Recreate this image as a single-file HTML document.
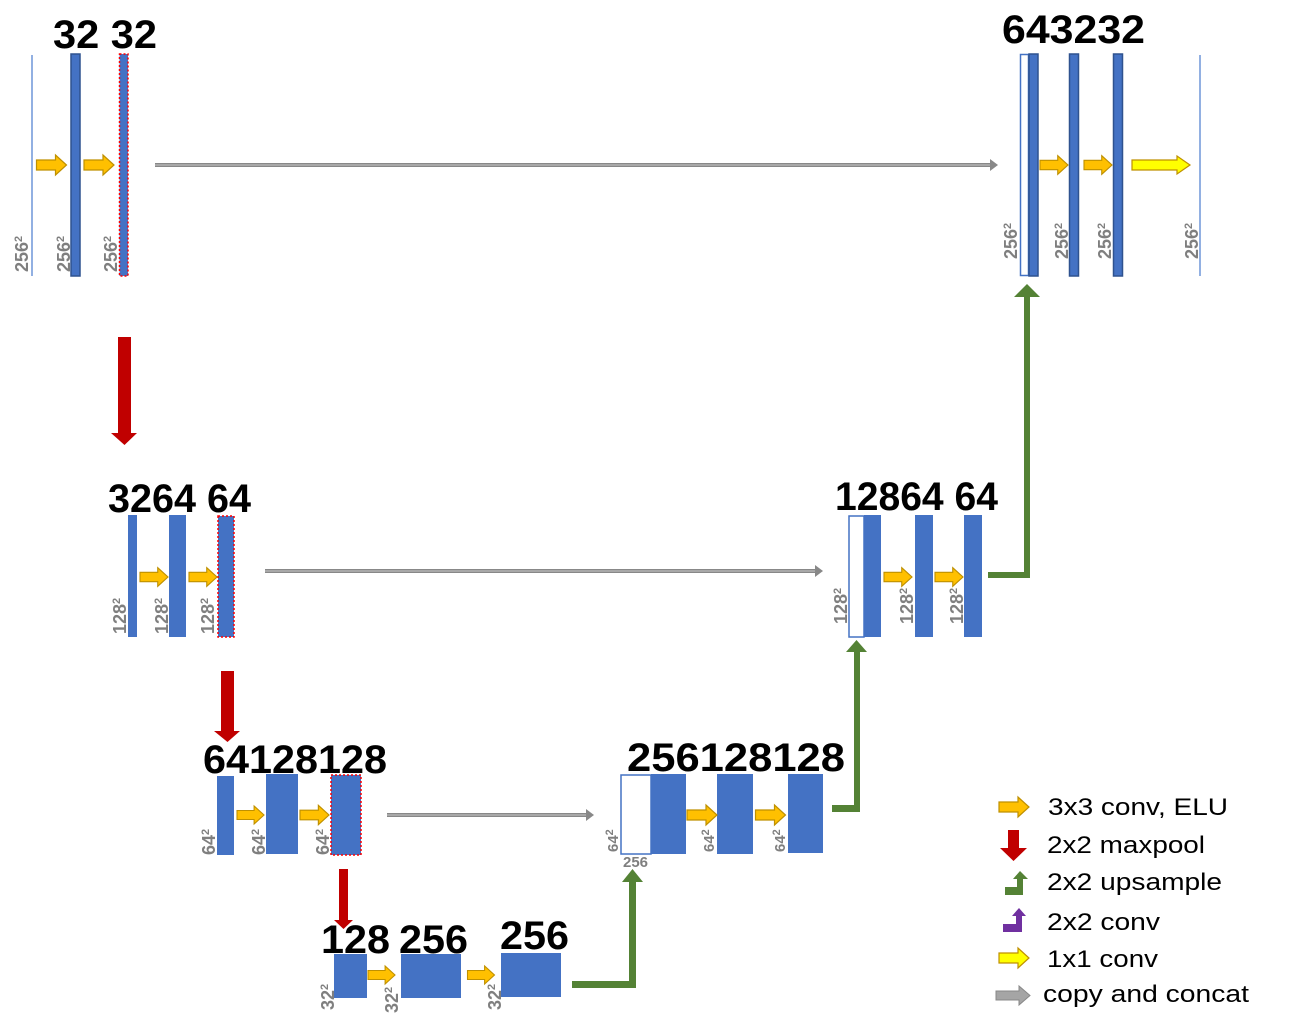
<!DOCTYPE html>
<html><head><meta charset="utf-8"><style>
html,body{margin:0;padding:0;background:#fff;}
svg{display:block;}
.big{font-family:"Liberation Sans",sans-serif;font-weight:bold;font-size:40px;fill:#000;}
.dim{font-family:"Liberation Sans",sans-serif;font-weight:bold;font-size:18px;fill:#7f7f7f;}
.sup{font-size:11px;}
.leg{font-family:"Liberation Sans",sans-serif;font-size:24px;fill:#000;}
.b{fill:#4472c4;}
.bd{fill:#4472c4;stroke:#2f528f;stroke-width:1.5;}
.rd{fill:#4472c4;stroke:#ff0000;stroke-width:1.5;stroke-dasharray:2 2;}
.wh{fill:#fff;stroke:#4472c4;stroke-width:1.5;}
</style></head><body>
<svg width="1294" height="1028" viewBox="0 0 1294 1028" xmlns="http://www.w3.org/2000/svg">
<defs>
<symbol id="oa" viewBox="0 0 30 20" overflow="visible"><polygon points="0,5 19,5 19,0 30,10 19,20 19,15 0,15" fill="#ffc000" stroke="#bf9000" stroke-width="1.2"/></symbol>
<symbol id="ya" viewBox="0 0 30 20" overflow="visible"><polygon points="0,5 19,5 19,0 30,10 19,20 19,15 0,15" fill="#ffff00" stroke="#bf9000" stroke-width="1.2"/></symbol>
</defs>

<g stroke-linecap="butt">
<line x1="155" y1="165" x2="992" y2="165" stroke="#888" stroke-width="4"/>
<line x1="155" y1="165" x2="992" y2="165" stroke="#c8c8c8" stroke-width="1"/>
<polygon points="990,159 998,165 990,171" fill="#888"/>
<line x1="265" y1="571" x2="817" y2="571" stroke="#888" stroke-width="4"/>
<line x1="265" y1="571" x2="817" y2="571" stroke="#c8c8c8" stroke-width="1"/>
<polygon points="815,565 823,571 815,577" fill="#888"/>
<line x1="387" y1="815" x2="588" y2="815" stroke="#888" stroke-width="4"/>
<line x1="387" y1="815" x2="588" y2="815" stroke="#c8c8c8" stroke-width="1"/>
<polygon points="586,809 594,815 586,821" fill="#888"/>
</g>

<text class="big" x="53" y="48" textLength="104" lengthAdjust="spacingAndGlyphs">32 32</text>
<line x1="32" y1="55" x2="32" y2="276" stroke="#6f96d8" stroke-width="1.5"/>
<rect class="bd" x="71" y="54" width="9" height="222"/>
<rect class="rd" x="119.5" y="54" width="8.5" height="222"/>
<use href="#oa" x="36" y="155" width="31" height="20"/>
<use href="#oa" x="83" y="155" width="32" height="20"/>
<text class="dim" transform="translate(28,272) rotate(-90)">256<tspan class="sup" dy="-6">2</tspan></text>
<text class="dim" transform="translate(70,272) rotate(-90)">256<tspan class="sup" dy="-6">2</tspan></text>
<text class="dim" transform="translate(117,272) rotate(-90)">256<tspan class="sup" dy="-6">2</tspan></text>

<text class="big" x="1002" y="43" textLength="143" lengthAdjust="spacingAndGlyphs">643232</text>
<rect class="wh" x="1020.5" y="54.5" width="8" height="221"/>
<rect class="bd" x="1029" y="54" width="9" height="222"/>
<rect class="bd" x="1069.5" y="54" width="9" height="222"/>
<rect class="bd" x="1113.5" y="54" width="9" height="222"/>
<line x1="1200" y1="55" x2="1200" y2="276" stroke="#6f96d8" stroke-width="1.5"/>
<use href="#oa" x="1040" y="155" width="28" height="20"/>
<use href="#oa" x="1084" y="155" width="28" height="20"/>
<svg x="1131" y="155" width="60" height="20" viewBox="0 0 60 20" overflow="visible"><polygon points="1,5 46,5 46,1 59,10 46,19 46,15 1,15" fill="#ffff00" stroke="#bf9000" stroke-width="1.2"/></svg>
<text class="dim" transform="translate(1017,259) rotate(-90)">256<tspan class="sup" dy="-6">2</tspan></text>
<text class="dim" transform="translate(1068,259) rotate(-90)">256<tspan class="sup" dy="-6">2</tspan></text>
<text class="dim" transform="translate(1111,259) rotate(-90)">256<tspan class="sup" dy="-6">2</tspan></text>
<text class="dim" transform="translate(1198,259) rotate(-90)">256<tspan class="sup" dy="-6">2</tspan></text>

<polygon points="118,337 131,337 131,433 137,433 124.5,445 111,433 118,433" fill="#c00000"/>
<polygon points="221,671 234,671 234,731 240,731 227.5,742 214,731 221,731" fill="#c00000"/>
<polygon points="339,869 348,869 348,920 353,920 343.5,929 334,920 339,920" fill="#c00000"/>

<text class="big" x="108" y="512" textLength="143" lengthAdjust="spacingAndGlyphs">3264 64</text>
<rect class="b" x="128" y="515" width="9" height="122"/>
<rect class="b" x="169" y="515" width="17" height="122"/>
<rect class="rd" x="218" y="516" width="16" height="121"/>
<use href="#oa" x="140" y="567" width="28" height="20"/>
<use href="#oa" x="189" y="567" width="28" height="20"/>
<text class="dim" transform="translate(126,634) rotate(-90)">128<tspan class="sup" dy="-6">2</tspan></text>
<text class="dim" transform="translate(168,634) rotate(-90)">128<tspan class="sup" dy="-6">2</tspan></text>
<text class="dim" transform="translate(214,634) rotate(-90)">128<tspan class="sup" dy="-6">2</tspan></text>

<text class="big" x="835" y="510" textLength="163" lengthAdjust="spacingAndGlyphs">12864 64</text>
<rect class="wh" x="849" y="516" width="15" height="121"/>
<rect class="b" x="864" y="515" width="17" height="122"/>
<rect class="b" x="915" y="515" width="18" height="122"/>
<rect class="b" x="964" y="515" width="18" height="122"/>
<use href="#oa" x="884" y="567" width="28" height="20"/>
<use href="#oa" x="935" y="567" width="28" height="20"/>
<text class="dim" transform="translate(847,624) rotate(-90)">128<tspan class="sup" dy="-6">2</tspan></text>
<text class="dim" transform="translate(913,624) rotate(-90)">128<tspan class="sup" dy="-6">2</tspan></text>
<text class="dim" transform="translate(963,624) rotate(-90)">128<tspan class="sup" dy="-6">2</tspan></text>

<text class="big" x="203" y="773" textLength="184" lengthAdjust="spacingAndGlyphs">64128128</text>
<rect class="b" x="217" y="776" width="17" height="79"/>
<rect class="b" x="266" y="774" width="32" height="80"/>
<rect class="rd" x="331" y="775" width="30" height="80"/>
<use href="#oa" x="237" y="805" width="27" height="20"/>
<use href="#oa" x="300" y="805" width="29" height="20"/>
<text class="dim" transform="translate(215,855) rotate(-90)">64<tspan class="sup" dy="-6">2</tspan></text>
<text class="dim" transform="translate(265,855) rotate(-90)">64<tspan class="sup" dy="-6">2</tspan></text>
<text class="dim" transform="translate(329,855) rotate(-90)">64<tspan class="sup" dy="-6">2</tspan></text>

<text class="big" x="627" y="771" textLength="218" lengthAdjust="spacingAndGlyphs">256128128</text>
<rect class="wh" x="621" y="775" width="30" height="79"/>
<rect class="b" x="651" y="774" width="35" height="80"/>
<rect class="b" x="717" y="774" width="36" height="80"/>
<rect class="b" x="788" y="774" width="35" height="79"/>
<use href="#oa" x="687" y="805" width="30" height="20"/>
<use href="#oa" x="755" y="805" width="31" height="20"/>
<text class="dim" transform="translate(618,852) rotate(-90)" style="font-size:15px">64<tspan class="sup" dy="-5">2</tspan></text>
<text class="dim" transform="translate(714,852) rotate(-90)" style="font-size:15px">64<tspan class="sup" dy="-5">2</tspan></text>
<text class="dim" transform="translate(785,852) rotate(-90)" style="font-size:15px">64<tspan class="sup" dy="-5">2</tspan></text>
<text class="dim" x="623" y="867" style="font-size:15px">256</text>

<text class="big" x="321" y="953" textLength="69" lengthAdjust="spacingAndGlyphs">128</text>
<text class="big" x="399" y="953" textLength="69" lengthAdjust="spacingAndGlyphs">256</text>
<text class="big" x="500" y="949" textLength="69" lengthAdjust="spacingAndGlyphs">256</text>
<rect class="b" x="334" y="954" width="33" height="44"/>
<rect class="b" x="401" y="954" width="60" height="44"/>
<rect class="b" x="501" y="953" width="60" height="44"/>
<use href="#oa" x="367" y="966" width="29" height="18"/>
<use href="#oa" x="466" y="966" width="30" height="18"/>
<text class="dim" transform="translate(334,1010) rotate(-90)">32<tspan class="sup" dy="-6">2</tspan></text>
<text class="dim" transform="translate(398,1013) rotate(-90)">32<tspan class="sup" dy="-6">2</tspan></text>
<text class="dim" transform="translate(501,1010) rotate(-90)">32<tspan class="sup" dy="-6">2</tspan></text>

<g fill="#548235">
<polygon points="572,981 629,981 629,882 622,882 632.5,869 643,882 636,882 636,988 572,988"/>
<polygon points="832,805 854,805 854,652 846,652 856.5,640 867,652 860,652 860,812 832,812"/>
<polygon points="988,572 1024,572 1024,297 1014,297 1027,284 1040,297 1030,297 1030,578 988,578"/>
</g>

<use href="#oa" x="998" y="797" width="32" height="20"/>
<text class="leg" x="1048" y="815" textLength="180" lengthAdjust="spacingAndGlyphs">3x3 conv, ELU</text>
<polygon points="1008,830 1019,830 1019,848 1027,848 1013.5,861 1000,848 1008,848" fill="#c00000"/>
<text class="leg" x="1047" y="853" textLength="158" lengthAdjust="spacingAndGlyphs">2x2 maxpool</text>
<polygon points="1005,895 1005,887 1017,887 1017,879 1013,879 1020,871 1028,879 1023,879 1023,895" fill="#548235"/>
<text class="leg" x="1047" y="890" textLength="175" lengthAdjust="spacingAndGlyphs">2x2 upsample</text>
<polygon points="1003,932 1003,924 1016,924 1016,916 1012,916 1019,908 1026,916 1022,916 1022,932" fill="#7030a0"/>
<text class="leg" x="1047" y="930" textLength="113" lengthAdjust="spacingAndGlyphs">2x2 conv</text>
<use href="#ya" x="998" y="948" width="32" height="20"/>
<text class="leg" x="1047" y="967" textLength="111" lengthAdjust="spacingAndGlyphs">1x1 conv</text>
<polygon points="996,991 1019,991 1019,986 1030,995.5 1019,1005 1019,1000 996,1000" fill="#a5a5a5" stroke="#888" stroke-width="1"/>
<text class="leg" x="1043" y="1002" textLength="206" lengthAdjust="spacingAndGlyphs">copy and concat</text>
</svg>
</body></html>
